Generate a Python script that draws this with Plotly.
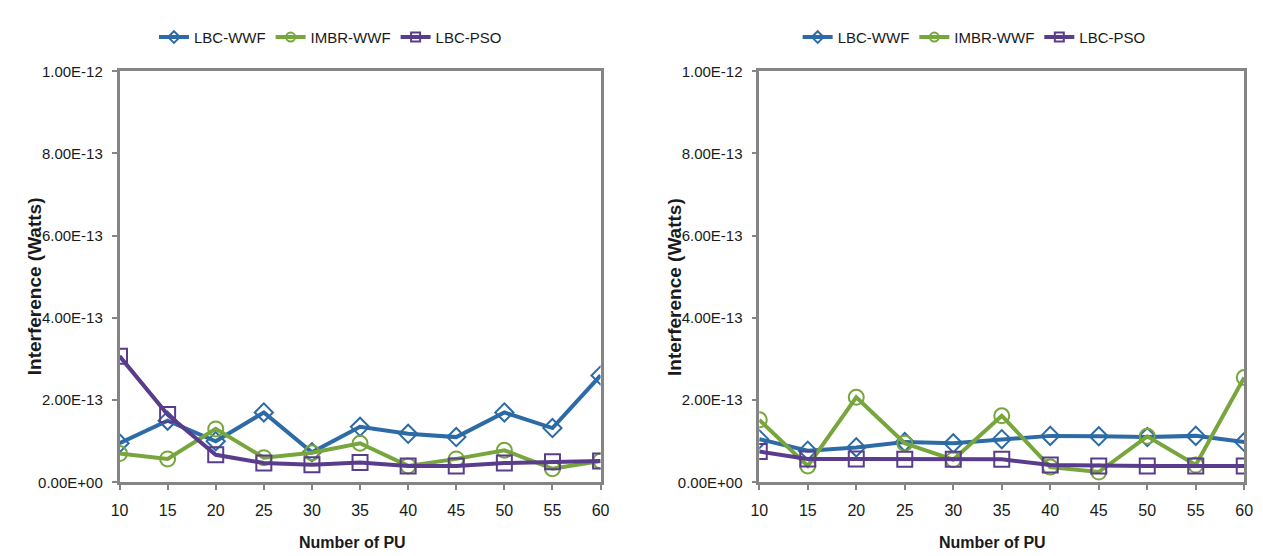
import plotly.graph_objects as go

pu = [10, 15, 20, 25, 30, 35, 40, 45, 50, 55, 60]

# Left panel
left_lbc_wwf = [0.95e-13, 1.50e-13, 1.00e-13, 1.70e-13, 0.73e-13, 1.35e-13, 1.18e-13, 1.10e-13, 1.70e-13, 1.32e-13, 2.60e-13]
left_imbr_wwf = [0.70e-13, 0.57e-13, 1.30e-13, 0.60e-13, 0.72e-13, 0.95e-13, 0.40e-13, 0.57e-13, 0.78e-13, 0.33e-13, 0.52e-13]
left_lbc_pso = [3.07e-13, 1.65e-13, 0.67e-13, 0.47e-13, 0.43e-13, 0.48e-13, 0.40e-13, 0.40e-13, 0.47e-13, 0.50e-13, 0.52e-13]

# Right panel
right_lbc_wwf = [1.05e-13, 0.77e-13, 0.85e-13, 0.98e-13, 0.95e-13, 1.05e-13, 1.13e-13, 1.12e-13, 1.10e-13, 1.13e-13, 0.98e-13]
right_imbr_wwf = [1.52e-13, 0.40e-13, 2.07e-13, 0.95e-13, 0.55e-13, 1.62e-13, 0.37e-13, 0.25e-13, 1.12e-13, 0.42e-13, 2.55e-13]
right_lbc_pso = [0.75e-13, 0.57e-13, 0.57e-13, 0.56e-13, 0.56e-13, 0.56e-13, 0.42e-13, 0.40e-13, 0.40e-13, 0.40e-13, 0.40e-13]

series_names = ["LBC-WWF", "IMBR-WWF", "LBC-PSO"]
y_tickvals = [0, 2e-13, 4e-13, 6e-13, 8e-13, 1e-12]
y_ticktext = ["0.00E+00", "2.00E-13", "4.00E-13", "6.00E-13", "8.00E-13", "1.00E-12"]
x_title = "Number of PU"
y_title = "Interference (Watts)"

colors = ["#2D6BA6", "#77A63C", "#5A3C8C"]
symbols = ["diamond-open", "circle-open", "square-open"]
msizes = [14, 15, 15]

FONT = "Liberation Sans, Arial"
TXT = "#1a1a1a"

W, H = 1263, 556
def px_x(p):
    return p / W
def px_y(p):
    return (H - p) / H

fig = go.Figure()
panels = [
    ("x", "y", "legend", [left_lbc_wwf, left_imbr_wwf, left_lbc_pso]),
    ("x2", "y2", "legend2", [right_lbc_wwf, right_imbr_wwf, right_lbc_pso]),
]
for xa, ya, lg, data in panels:
    for name, vals, c, s, ms in zip(series_names, data, colors, symbols, msizes):
        fig.add_trace(go.Scatter(
            x=pu, y=vals, name=name, mode="lines+markers",
            xaxis=xa, yaxis=ya, showlegend=False,
            line=dict(color=c, width=4),
            marker=dict(symbol=s, size=ms, color=c, line=dict(color=c, width=2)),
        ))
    # legend entries (smaller markers, as in the original legend)
    for name, c, s in zip(series_names, colors, symbols):
        fig.add_trace(go.Scatter(
            x=[None], y=[None], name=name, mode="lines+markers",
            xaxis=xa, yaxis=ya, legend=lg, showlegend=True,
            line=dict(color=c, width=4),
            marker=dict(symbol=s, size=9, color=c, line=dict(color=c, width=2)),
        ))

axis_common = dict(
    showline=True, linecolor="#858585", linewidth=2.5, mirror=True,
    showgrid=False, zeroline=False, ticks="outside", ticklen=5,
    tickcolor="#858585", tickwidth=1.5,
)

xd1 = [px_x(104), px_x(592)]
xd2 = [px_x(753), px_x(1245)]
yd = [px_y(480), px_y(56)]

xfont = dict(family=FONT, size=16, color=TXT)
yfont = dict(family=FONT, size=15, color=TXT)

legend_common = dict(orientation="h", xanchor="center", y=px_y(21), yanchor="middle",
                     font=dict(family=FONT, size=15, color=TXT), itemwidth=30,
                     bgcolor="rgba(0,0,0,0)", tracegroupgap=0)

fig.update_layout(
    width=W, height=H,
    margin=dict(l=0, r=0, t=0, b=0),
    paper_bgcolor="white", plot_bgcolor="white",
    showlegend=True,
    xaxis=dict(domain=xd1, range=[10, 60], tickvals=pu, anchor="y", ticklabelstandoff=7, tickfont=xfont, **axis_common),
    yaxis=dict(domain=yd, range=[0, 1e-12], tickvals=y_tickvals, ticktext=y_ticktext, anchor="x", ticklabelstandoff=6, tickfont=yfont, **axis_common),
    xaxis2=dict(domain=xd2, range=[10, 60], tickvals=pu, anchor="y2", ticklabelstandoff=7, tickfont=xfont, **axis_common),
    yaxis2=dict(domain=yd, range=[0, 1e-12], tickvals=y_tickvals, ticktext=y_ticktext, anchor="x2", ticklabelstandoff=6, tickfont=yfont, **axis_common),
    legend=dict(x=px_x(318), **legend_common),
    legend2=dict(x=px_x(971), **legend_common),
)

for cx in [340, 990]:
    fig.add_annotation(text=x_title, x=px_x(cx), y=px_y(542), xref="paper", yref="paper",
                       showarrow=False, xanchor="center", yanchor="middle",
                       font=dict(family=FONT, size=16, color=TXT, weight="bold"))
for tx in [18, 667]:
    fig.add_annotation(text=y_title, x=px_x(tx), y=px_y(278), xref="paper", yref="paper",
                       showarrow=False, xanchor="center", yanchor="middle", textangle=-90,
                       font=dict(family=FONT, size=19, color=TXT, weight="bold"))

fig.write_html("out.html")
